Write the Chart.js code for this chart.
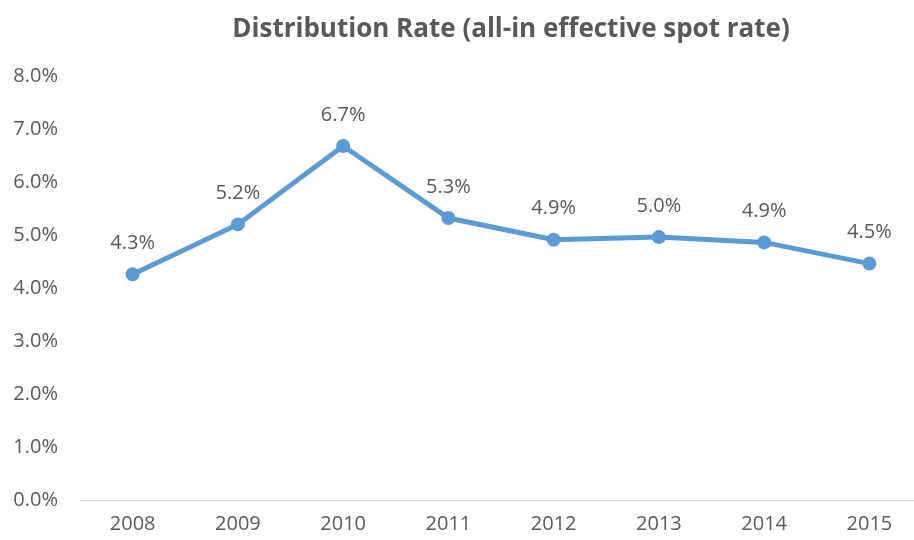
<!DOCTYPE html>
<html>
<head>
<meta charset="utf-8">
<script src="https://cdn.jsdelivr.net/npm/chart.js@4/dist/chart.umd.min.js"></script>
<style>
  html, body { margin: 0; padding: 0; background: #fff; overflow: hidden; }
  #wrap { position: relative; width: 929px; height: 540px; }
  canvas { display: block; }
</style>
</head>
<body>
<div id="wrap"><canvas id="c" width="929" height="540" style="width:929px;height:540px"></canvas></div>
<script>
const chartTitle = 'Distribution Rate (all-in effective spot rate)';
const years = ['2008', '2009', '2010', '2011', '2012', '2013', '2014', '2015'];
const distributionRate = [4.26, 5.20, 6.68, 5.32, 4.91, 4.96, 4.86, 4.46];
const yTicks = [0, 1, 2, 3, 4, 5, 6, 7, 8];

const FONT = "'Open Sans', 'Liberation Sans', sans-serif";
const TEXT = '#595959';
const BLUE = '#5B9BD5';

const dataLabels = {
  id: 'dataLabels',
  afterDatasetsDraw(chart) {
    const ctx = chart.ctx;
    const meta = chart.getDatasetMeta(0);
    ctx.save();
    ctx.font = '20px ' + FONT;
    ctx.fillStyle = TEXT;
    ctx.textAlign = 'center';
    ctx.textBaseline = 'middle';
    meta.data.forEach((pt, i) => {
      ctx.fillText(distributionRate[i].toFixed(1) + '%', pt.x, pt.y - 31);
    });
    ctx.restore();
  }
};

const chartTitleDraw = {
  id: 'chartTitleDraw',
  afterDraw(chart) {
    const ctx = chart.ctx;
    ctx.save();
    ctx.font = 'bold 26px ' + FONT;
    ctx.fillStyle = TEXT;
    ctx.textAlign = 'center';
    ctx.textBaseline = 'middle';
    ctx.fillText(chartTitle, 511, 30);
    ctx.restore();
  }
};

new Chart(document.getElementById('c'), {
  type: 'line',
  data: {
    labels: years,
    datasets: [{
      label: 'Distribution Rate',
      data: distributionRate,
      borderColor: BLUE,
      backgroundColor: BLUE,
      borderWidth: 5,
      pointRadius: 7,
      pointHoverRadius: 7,
      pointBackgroundColor: BLUE,
      pointBorderWidth: 0,
      tension: 0,
      clip: false
    }]
  },
  options: {
    responsive: false,
    animation: false,
    devicePixelRatio: 1,
    layout: { padding: { left: 0, right: 1, top: 76, bottom: 0 } },
    plugins: {
      legend: { display: false },
      tooltip: { enabled: false },
      title: { display: false }
    },
    scales: {
      x: {
        type: 'category',
        offset: true,
        grid: { display: false, drawTicks: false },
        border: { display: true, color: '#D9D9D9', width: 1 },
        ticks: { color: TEXT, font: { family: FONT, size: 20 }, padding: 12, maxRotation: 0, autoSkip: false },
        afterFit(scale) { scale.height = 40; }
      },
      y: {
        min: 0,
        max: 8,
        afterBuildTicks(scale) { scale.ticks = yTicks.map(v => ({ value: v })); },
        grid: { display: false, drawTicks: false },
        border: { display: false },
        ticks: {
          color: TEXT,
          font: { family: FONT, size: 20 },
          padding: 22,
          callback: v => Number(v).toFixed(1) + '%'
        },
        afterFit(scale) { scale.width = 80; }
      }
    }
  },
  plugins: [dataLabels, chartTitleDraw]
});
</script>
</body>
</html>
